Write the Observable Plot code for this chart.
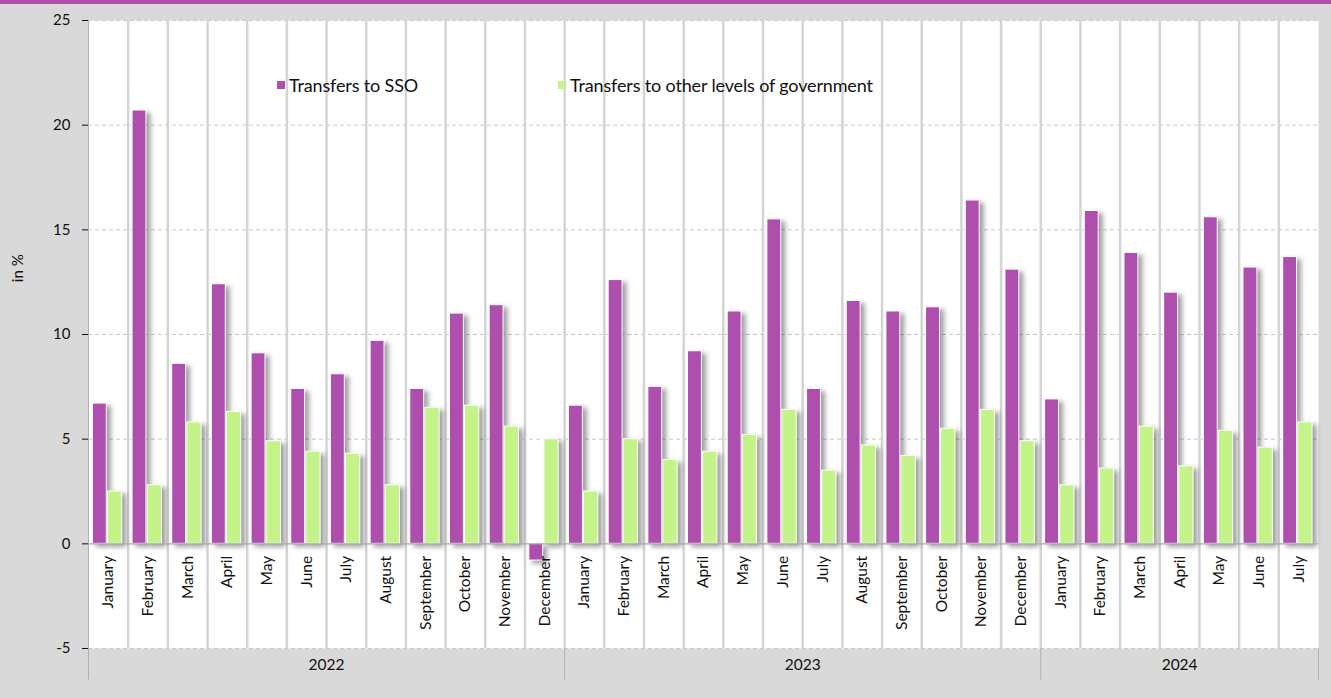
<!DOCTYPE html>
<html>
<head>
<meta charset="utf-8">
<script src="https://cdn.jsdelivr.net/npm/d3@7"></script>
<script src="https://cdn.jsdelivr.net/npm/@observablehq/plot@0.6"></script>
<style>
  html, body { margin: 0; padding: 0; background: #d9d9d9; width: 1331px; height: 698px; overflow: hidden; font-family: Lato, "Liberation Sans", sans-serif; }
  #topbar { height: 4px; background: #a94fa8; }
  #wrap { position: relative; }
  .leg { position: absolute; top: 70px; display: flex; align-items: center; font-size: 18px; letter-spacing: -0.15px; color: #111; white-space: nowrap; }
  .sw { width: 8px; height: 8px; margin-right: 4px; }
  .bars { filter: drop-shadow(4px 3px 2.5px rgba(0,0,0,0.38)); }
</style>
</head>
<body>
<div id="topbar"></div>
<div id="wrap">
  <div class="leg" style="left:277px"><span class="sw" style="background:#ae4fae"></span>Transfers to SSO</div>
  <div class="leg" style="left:558px"><span class="sw" style="background:#c4f38a"></span>Transfers to other levels of government</div>
</div>
<script>
const years = ["2022", "2023", "2024"];
const monthsPerYear = [12, 12, 7];
const monthNames = ["January","February","March","April","May","June","July","August","September","October","November","December"];
const seriesNames = ["Transfers to SSO", "Transfers to other levels of government"];
const sso = [6.7,20.7,8.6,12.4,9.1,7.4,8.1,9.7,7.4,11.0,11.4,-0.8,
             6.6,12.6,7.5,9.2,11.1,15.5,7.4,11.6,11.1,11.3,16.4,13.1,
             6.9,15.9,13.9,12.0,15.6,13.2,13.7];
const other = [2.5,2.8,5.8,6.3,4.9,4.4,4.3,2.8,6.5,6.6,5.6,5.0,
               2.5,5.0,4.0,4.4,5.2,6.4,3.5,4.7,4.2,5.5,6.4,4.9,
               2.8,3.6,5.6,3.7,5.4,4.6,5.8];
const yTicks = [-5, 0, 5, 10, 15, 20, 25];
const colors = ["#ae4fae", "#c4f38a"];

// build tables
const periods = [];
const yearSpans = [];
years.forEach((y, k) => {
  const start = periods.length;
  for (let m = 0; m < monthsPerYear[k]; m++) periods.push({i: periods.length, year: y, month: monthNames[m]});
  yearSpans.push({year: y, start, end: periods.length, mid: (start + periods.length) / 2});
});
const n = periods.length;
const rows = periods.map(p => ({...p, sso: sso[p.i], other: other[p.i]}));
const yearBounds = [0, ...yearSpans.map(s => s.end)];

const chart = Plot.plot({
  width: 1331,
  height: 694,
  marginLeft: 88,
  marginRight: 13,
  marginTop: 16,
  marginBottom: 50,
  style: {background: "transparent", fontFamily: "Lato, 'Liberation Sans', sans-serif", fontSize: "15px", color: "#111"},
  x: {domain: [0, n], axis: null},
  y: {domain: [yTicks[0], yTicks[yTicks.length - 1]], ticks: yTicks, tickSize: 6, tickPadding: 12, label: null, tickFormat: d => d},
  marks: [
    Plot.frame({fill: "white", stroke: "none"}),
    Plot.ruleY(yTicks.filter(t => t !== 0), {stroke: "#c8c8c8", strokeDasharray: "4,3"}),
    Plot.ruleX(d3.range(1, n), {stroke: "#d4d4d4", strokeWidth: 2.5}),
    Plot.ruleX(yearBounds, {y1: yTicks[0], y2: yTicks[0] - 1.5, stroke: "#b0b0b0", strokeWidth: 1}),
    Plot.ruleX([0], {y1: yTicks[0], y2: yTicks[yTicks.length - 1], stroke: "#b0b0b0", strokeWidth: 1}),
    Plot.rectY(rows, {x1: d => d.i + 0.11, x2: d => d.i + 0.46, y1: 0, y2: "sso", fill: colors[0], stroke: "white", strokeWidth: 1, className: "bars"}),
    Plot.rectY(rows, {x1: d => d.i + 0.49, x2: d => d.i + 0.85, y1: 0, y2: "other", fill: colors[1], stroke: "white", strokeWidth: 1, className: "bars"}),
    Plot.ruleY([0], {stroke: "#a8a8a8", strokeWidth: 1.2}),
    Plot.text(rows, {x: d => d.i + 0.5, y: 0, dy: 12, text: "month", rotate: -90, textAnchor: "end", fontSize: 15.5, fill: "#111"}),
    Plot.text(yearSpans, {x: "mid", y: yTicks[0], dy: 17, text: "year", fontSize: 15.5, fill: "#111"}),
    Plot.text(["in %"], {frameAnchor: "left", y: () => (yTicks[1] + yTicks[yTicks.length - 1]) / 2, dx: -70, rotate: -90, fontSize: 15, fill: "#111"})
  ]
});
document.getElementById("wrap").appendChild(chart);
</script>
</body>
</html>
